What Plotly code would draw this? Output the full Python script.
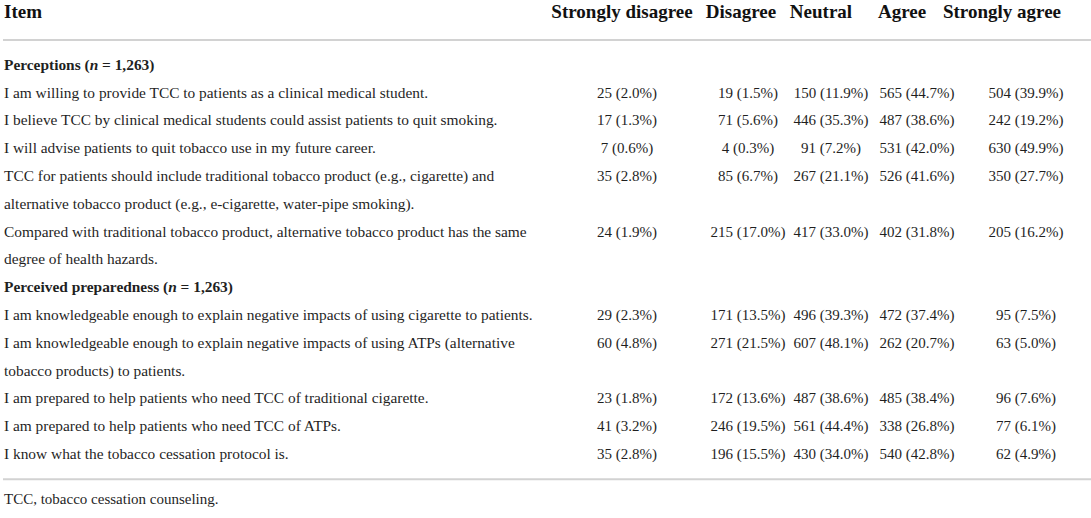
import plotly.graph_objects as go

# --- table content ---
columns = ["Strongly disagree", "Disagree", "Neutral", "Agree", "Strongly agree"]
sections = ["Perceptions", "Perceived preparedness"]
section_n = ["1,263", "1,263"]

perception_items = [
    "I am willing to provide TCC to patients as a clinical medical student.",
    "I believe TCC by clinical medical students could assist patients to quit smoking.",
    "I will advise patients to quit tobacco use in my future career.",
    "TCC for patients should include traditional tobacco product (e.g., cigarette) and<br>"
    "alternative tobacco product (e.g., e-cigarette, water-pipe smoking).",
    "Compared with traditional tobacco product, alternative tobacco product has the same<br>"
    "degree of health hazards.",
]
preparedness_items = [
    "I am knowledgeable enough to explain negative impacts of using cigarette to patients.",
    "I am knowledgeable enough to explain negative impacts of using ATPs (alternative<br>"
    "tobacco products) to patients.",
    "I am prepared to help patients who need TCC of traditional cigarette.",
    "I am prepared to help patients who need TCC of ATPs.",
    "I know what the tobacco cessation protocol is.",
]

# counts and percentages per response, perceptions rows then preparedness rows
strongly_disagree_n = [25, 17, 7, 35, 24, 29, 60, 23, 41, 35]
strongly_disagree_pct = ["2.0", "1.3", "0.6", "2.8", "1.9", "2.3", "4.8", "1.8", "3.2", "2.8"]
disagree_n = [19, 71, 4, 85, 215, 171, 271, 172, 246, 196]
disagree_pct = ["1.5", "5.6", "0.3", "6.7", "17.0", "13.5", "21.5", "13.6", "19.5", "15.5"]
neutral_n = [150, 446, 91, 267, 417, 496, 607, 487, 561, 430]
neutral_pct = ["11.9", "35.3", "7.2", "21.1", "33.0", "39.3", "48.1", "38.6", "44.4", "34.0"]
agree_n = [565, 487, 531, 526, 402, 472, 262, 485, 338, 540]
agree_pct = ["44.7", "38.6", "42.0", "41.6", "31.8", "37.4", "20.7", "38.4", "26.8", "42.8"]
strongly_agree_n = [504, 242, 630, 350, 205, 95, 63, 96, 77, 62]
strongly_agree_pct = ["39.9", "19.2", "49.9", "27.7", "16.2", "7.5", "5.0", "7.6", "6.1", "4.9"]

footnote = "TCC, tobacco cessation counseling."

# --- layout constants (pixel space) ---
W, H = 1091, 518
text_x = 4
col_x = [627, 748, 831, 917, 1026]
head_x = [622, 741, 821, 902, 1002]
header_y = 13
top_rule_y = 40
first_line_y = 66
line_step = 27.8
ink = "#1f1f1f"
rule = "#d2d2d2"
serif = "Liberation Serif, Times New Roman, serif"

# build line-by-line rows: section header, then item lines
item_lines, item_y, bold_lines, bold_y = [], [], [], []
value_rows_y = []
k = 0
groups = [perception_items, preparedness_items]
for sec, n, items in zip(sections, section_n, groups):
    bold_lines.append(f"<b>{sec} (<i>n</i> = {n})</b>")
    bold_y.append(first_line_y + k * line_step)
    k += 1
    for it in items:
        value_rows_y.append(first_line_y + k * line_step)
        for part in it.split("<br>"):
            item_lines.append(part)
            item_y.append(first_line_y + k * line_step)
            k += 1
last_y = first_line_y + (k - 1) * line_step
bottom_rule_y = last_y + 24
footnote_y = bottom_rule_y + 21

value_cols = [
    (strongly_disagree_n, strongly_disagree_pct),
    (disagree_n, disagree_pct),
    (neutral_n, neutral_pct),
    (agree_n, agree_pct),
    (strongly_agree_n, strongly_agree_pct),
]

fig = go.Figure()

fig.add_trace(go.Scatter(
    x=[text_x] * len(item_lines), y=item_y, text=item_lines, mode="text",
    textposition="middle right", textfont=dict(family=serif, size=15.4, color=ink),
    hoverinfo="skip", showlegend=False, cliponaxis=False))
fig.add_trace(go.Scatter(
    x=[text_x] * len(bold_lines), y=bold_y, text=bold_lines, mode="text",
    textposition="middle right", textfont=dict(family=serif, size=15.4, color=ink),
    hoverinfo="skip", showlegend=False, cliponaxis=False))

for cx, (counts, pcts) in zip(col_x, value_cols):
    labels = [f"{c} ({p}%)" for c, p in zip(counts, pcts)]
    fig.add_trace(go.Scatter(
        x=[cx] * len(labels), y=value_rows_y, text=labels, mode="text",
        textposition="middle center", textfont=dict(family=serif, size=15, color=ink),
        hoverinfo="skip", showlegend=False, cliponaxis=False))

# column headers
fig.add_trace(go.Scatter(
    x=[text_x] + head_x, y=[header_y] * 6,
    text=["<b>Item</b>"] + [f"<b>{c}</b>" for c in columns], mode="text",
    textposition=["middle right"] + ["middle center"] * 5,
    textfont=dict(family=serif, size=19, color="#111"),
    hoverinfo="skip", showlegend=False, cliponaxis=False))

# footnote
fig.add_trace(go.Scatter(
    x=[text_x], y=[footnote_y], text=[footnote], mode="text",
    textposition="middle right", textfont=dict(family=serif, size=15, color=ink),
    hoverinfo="skip", showlegend=False, cliponaxis=False))

for ry in (top_rule_y, bottom_rule_y):
    fig.add_shape(type="line", x0=3, x1=W, y0=ry, y1=ry, xref="x", yref="y",
                  line=dict(color=rule, width=2))

fig.update_layout(
    width=W, height=H,
    margin=dict(l=0, r=0, t=0, b=0),
    paper_bgcolor="white", plot_bgcolor="white",
    hovermode=False,
    xaxis=dict(range=[0, W], visible=False, fixedrange=True),
    yaxis=dict(range=[H, 0], visible=False, fixedrange=True),
)

# drop the browser's default page margin so the figure sits at the window corner
fig.write_html("out.html", config={"displayModeBar": False},
               post_script="document.body.style.margin = '0';")
